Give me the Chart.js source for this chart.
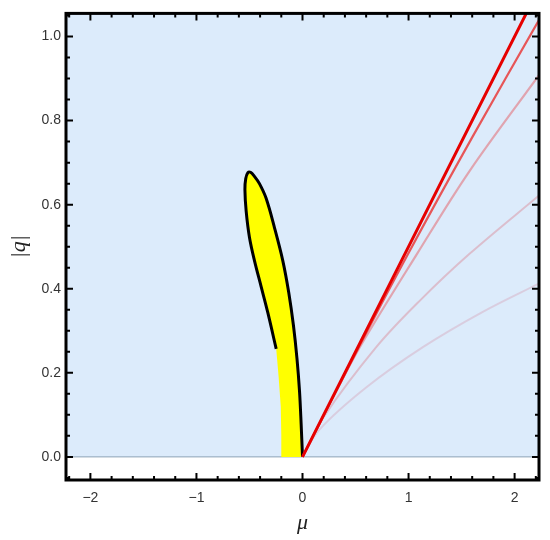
<!DOCTYPE html>
<html>
<head>
<meta charset="utf-8">
<script src="https://cdn.jsdelivr.net/npm/chart.js@4/dist/chart.umd.min.js"></script>
<style>
  html, body { margin: 0; padding: 0; background: #fff; }
</style>
</head>
<body>
<canvas id="chart" width="550" height="540"></canvas>
<script>
// ticks
const xTicks = [-2, -1, 0, 1, 2];
const yTicks = [0, 0.2, 0.4, 0.6, 0.8, 1.0];

// black boundary of the leaf, from the origin up the right side and down the left side
const outlineMu = [0, -0.013, -0.028, -0.052, -0.085, -0.129, -0.186, -0.264, -0.343, -0.406, -0.455, -0.49, -0.515,
                   -0.535, -0.543, -0.531, -0.5, -0.453, -0.39, -0.327, -0.248];
const outlineQ  = [0, 0.079, 0.156, 0.234, 0.312, 0.39, 0.467, 0.545, 0.615, 0.65, 0.668, 0.677, 0.676,
                   0.662, 0.636, 0.584, 0.522, 0.467, 0.405, 0.343, 0.257];

// yellow strip below the end of the boundary, back to the origin
const stripMu = [-0.225, -0.205, -0.2, -0.2, 0];
const stripQ  = [0.19, 0.12, 0.05, 0, 0];

// red curves leaving the origin (strong -> faint)
const line1Mu = [0, 2.2];
const line1Q  = [0, 1.1];
const line2Mu = [0, 0.5, 1.0, 1.6, 2.25];
const line2Q  = [0, 0.246, 0.485, 0.76, 1.048];
const line3Mu = [0, 0.3, 0.55, 1.08, 1.575, 2.25];
const line3Q  = [0, 0.148, 0.265, 0.483, 0.68, 0.915];
const line4Mu = [0, 0.2, 0.695, 1.1, 1.575, 2.25];
const line4Q  = [0, 0.095, 0.261, 0.37, 0.483, 0.626];
const line5Mu = [0, 0.16, 0.6, 1.135, 1.7, 2.25];
const line5Q  = [0, 0.065, 0.165, 0.261, 0.345, 0.415];

// background region q >= 0
const groundMu = [-2.3, 2.3];
const groundQ  = [0, 0];

function pts(xs, ys) {
  return xs.map((x, i) => ({ x: x, y: ys[i] }));
}

const curve = (xs, ys, color, width, order) => ({
  data: pts(xs, ys),
  borderColor: color,
  borderWidth: width,
  showLine: true,
  pointRadius: 0,
  tension: 0.35,
  fill: false,
  order: order
});

const frame = {
  id: 'frame',
  afterDraw(chart) {
    const { ctx, chartArea: a, scales: { x, y } } = chart;
    ctx.save();
    ctx.strokeStyle = '#000';
    ctx.lineWidth = 2;
    for (let i = -11; i <= 11; i++) {
      const px = x.getPixelForValue(i * 0.2);
      const len = i % 5 === 0 ? 7 : 4;
      ctx.beginPath();
      ctx.moveTo(px, a.bottom); ctx.lineTo(px, a.bottom - len);
      ctx.moveTo(px, a.top); ctx.lineTo(px, a.top + len);
      ctx.stroke();
    }
    for (let i = -1; i <= 21; i++) {
      const py = y.getPixelForValue(i * 0.05);
      const len = i % 4 === 0 ? 7 : 4;
      ctx.beginPath();
      ctx.moveTo(a.left, py); ctx.lineTo(a.left + len, py);
      ctx.moveTo(a.right, py); ctx.lineTo(a.right - len, py);
      ctx.stroke();
    }
    ctx.lineWidth = 3;
    ctx.strokeRect(a.left, a.top, a.right - a.left, a.bottom - a.top);
    ctx.restore();
  }
};

new Chart(document.getElementById('chart'), {
  type: 'scatter',
  data: {
    datasets: [
      curve(line1Mu, line1Q, '#e60000', 3, 1),
      curve(line2Mu, line2Q, 'rgba(232, 70, 70, 0.9)', 2.2, 2),
      curve(line3Mu, line3Q, 'rgba(225, 140, 150, 0.75)', 2.2, 3),
      curve(line4Mu, line4Q, 'rgba(218, 160, 175, 0.6)', 2, 4),
      curve(line5Mu, line5Q, 'rgba(215, 180, 200, 0.55)', 2, 5),
      curve(outlineMu, outlineQ, '#000', 3, 6),
      {
        data: pts(outlineMu.concat(stripMu), outlineQ.concat(stripQ)),
        showLine: true,
        borderWidth: 0,
        borderColor: 'rgba(0,0,0,0)',
        backgroundColor: '#ffff00',
        pointRadius: 0,
        tension: 0,
        fill: 'shape',
        order: 7
      },
      {
        data: pts(groundMu, groundQ),
        showLine: true,
        borderColor: '#8ea3b6',
        borderWidth: 1,
        backgroundColor: '#dcebfb',
        pointRadius: 0,
        fill: 'end',
        order: 8
      }
    ]
  },
  options: {
    responsive: false,
    animation: false,
    layout: { padding: { top: 5, right: 11, left: 0, bottom: 0 } },
    plugins: {
      legend: { display: false },
      tooltip: { enabled: false }
    },
    scales: {
      x: {
        type: 'linear',
        min: -2.23,
        max: 2.23,
        grid: { display: false, drawTicks: false },
        border: { display: false },
        afterFit: s => { s.height = 60; },
        afterBuildTicks: s => { s.ticks = xTicks.map(v => ({ value: v })); },
        ticks: {
          padding: 10,
          color: '#333',
          font: { family: 'Liberation Sans', size: 14 },
          callback: v => String(v).replace('-', '\u2212')
        },
        title: {
          display: true,
          text: 'μ',
          color: '#222',
          font: { family: 'Liberation Serif', size: 22, style: 'italic' },
          padding: { top: 0, bottom: 4 }
        }
      },
      y: {
        type: 'linear',
        min: -0.055,
        max: 1.055,
        grid: { display: false, drawTicks: false },
        border: { display: false },
        afterFit: s => { s.width = 66; },
        afterBuildTicks: s => { s.ticks = yTicks.map(v => ({ value: v })); },
        ticks: {
          padding: 5,
          color: '#333',
          font: { family: 'Liberation Sans', size: 14 },
          callback: v => v.toFixed(1)
        },
        title: {
          display: true,
          text: '|q|',
          color: '#222',
          font: { family: 'Liberation Serif', size: 22, style: 'italic' },
          padding: { top: 6, bottom: 0 }
        }
      }
    }
  },
  plugins: [frame]
});
</script>
</body>
</html>
